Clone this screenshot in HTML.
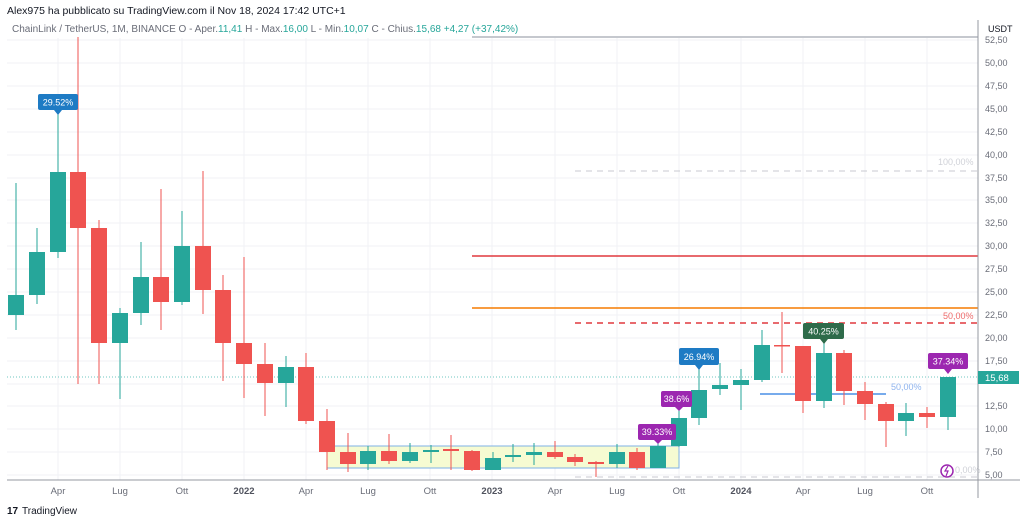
<!DOCTYPE html>
<html><head><meta charset="utf-8"><style>
body{margin:0;background:#fff;width:1024px;height:522px;overflow:hidden}
svg{display:block;font-family:"Liberation Sans",sans-serif}
</style></head><body>
<svg width="1024" height="522" viewBox="0 0 1024 522">
<rect width="1024" height="522" fill="#fff"/>
<g stroke="#f0f2f5" stroke-width="1">
<line x1="58" y1="38" x2="58" y2="480"/><line x1="120" y1="38" x2="120" y2="480"/><line x1="182" y1="38" x2="182" y2="480"/><line x1="244" y1="38" x2="244" y2="480"/><line x1="306" y1="38" x2="306" y2="480"/><line x1="368" y1="38" x2="368" y2="480"/><line x1="430" y1="38" x2="430" y2="480"/><line x1="492" y1="38" x2="492" y2="480"/><line x1="555" y1="38" x2="555" y2="480"/><line x1="617" y1="38" x2="617" y2="480"/><line x1="679" y1="38" x2="679" y2="480"/><line x1="741" y1="38" x2="741" y2="480"/><line x1="803" y1="38" x2="803" y2="480"/><line x1="865" y1="38" x2="865" y2="480"/><line x1="927" y1="38" x2="927" y2="480"/>
<line x1="7" y1="40" x2="978" y2="40"/><line x1="7" y1="63" x2="978" y2="63"/><line x1="7" y1="86" x2="978" y2="86"/><line x1="7" y1="109" x2="978" y2="109"/><line x1="7" y1="132" x2="978" y2="132"/><line x1="7" y1="155" x2="978" y2="155"/><line x1="7" y1="178" x2="978" y2="178"/><line x1="7" y1="200" x2="978" y2="200"/><line x1="7" y1="223" x2="978" y2="223"/><line x1="7" y1="246" x2="978" y2="246"/><line x1="7" y1="269" x2="978" y2="269"/><line x1="7" y1="292" x2="978" y2="292"/><line x1="7" y1="315" x2="978" y2="315"/><line x1="7" y1="338" x2="978" y2="338"/><line x1="7" y1="361" x2="978" y2="361"/><line x1="7" y1="384" x2="978" y2="384"/><line x1="7" y1="406" x2="978" y2="406"/><line x1="7" y1="429" x2="978" y2="429"/><line x1="7" y1="452" x2="978" y2="452"/><line x1="7" y1="475" x2="978" y2="475"/>
</g>
<!-- header -->
<text x="7" y="14" font-size="10.5" fill="#131722">Alex975 ha pubblicato su TradingView.com il Nov 18, 2024 17:42 UTC+1</text>
<text x="12" y="32" font-size="10" fill="#6a6d78">ChainLink / TetherUS, 1M, BINANCE  O - Aper.<tspan fill="#26a69a">11,41</tspan>  H - Max.<tspan fill="#26a69a">16,00</tspan>  L - Min.<tspan fill="#26a69a">10,07</tspan>  C - Chius.<tspan fill="#26a69a">15,68  +4,27 (+37,42%)</tspan></text>
<!-- yellow box -->
<rect x="327" y="446" width="352" height="22" fill="#f6fbd2" stroke="#7fb0e6" stroke-width="1"/>
<!-- horizontal lines -->
<line x1="472" y1="37" x2="978" y2="37" stroke="#b2b5be" stroke-width="1.5"/>
<line x1="472" y1="256" x2="978" y2="256" stroke="#e0393e" stroke-width="1.5"/>
<line x1="472" y1="308" x2="978" y2="308" stroke="#f57c00" stroke-width="1.5"/>
<line x1="575" y1="323" x2="978" y2="323" stroke="#e0393e" stroke-width="1.5" stroke-dasharray="6,5"/>
<line x1="575" y1="171" x2="978" y2="171" stroke="#c8cad0" stroke-width="1" stroke-dasharray="6,5"/>
<line x1="575" y1="477" x2="978" y2="477" stroke="#c8cad0" stroke-width="1" stroke-dasharray="6,5"/>
<line x1="760" y1="394" x2="886" y2="394" stroke="#4a8fe6" stroke-width="1.5"/>
<line x1="7" y1="377" x2="978" y2="377" stroke="#6fc7c0" stroke-width="1" stroke-dasharray="1,2"/>
<text x="943" y="319" font-size="9" fill="#ef6b6b">50,00%</text>
<text x="938" y="165" font-size="9" fill="#d0d2d8">100,00%</text>
<text x="891" y="390" font-size="9" fill="#8fb4ee">50,00%</text>
<text x="955" y="473" font-size="9" fill="#d0d2d8">0,00%</text>
<!-- candles -->
<g stroke-width="1">
<g id="c"></g>
</g>
<g>
<!-- format: wick line + body rect -->
<line x1="16" y1="183" x2="16" y2="330" stroke="#26a69a"/><rect x="8" y="295" width="16" height="20" fill="#26a69a"/>
<line x1="37" y1="228" x2="37" y2="304" stroke="#26a69a"/><rect x="29" y="252" width="16" height="43" fill="#26a69a"/>
<line x1="58" y1="112" x2="58" y2="258" stroke="#26a69a"/><rect x="50" y="172" width="16" height="80" fill="#26a69a"/>
<line x1="78" y1="37" x2="78" y2="384" stroke="#ef5350"/><rect x="70" y="172" width="16" height="56" fill="#ef5350"/>
<line x1="99" y1="220" x2="99" y2="384" stroke="#ef5350"/><rect x="91" y="228" width="16" height="115" fill="#ef5350"/>
<line x1="120" y1="308" x2="120" y2="399" stroke="#26a69a"/><rect x="112" y="313" width="16" height="30" fill="#26a69a"/>
<line x1="141" y1="242" x2="141" y2="325" stroke="#26a69a"/><rect x="133" y="277" width="16" height="36" fill="#26a69a"/>
<line x1="161" y1="189" x2="161" y2="330" stroke="#ef5350"/><rect x="153" y="277" width="16" height="25" fill="#ef5350"/>
<line x1="182" y1="211" x2="182" y2="305" stroke="#26a69a"/><rect x="174" y="246" width="16" height="56" fill="#26a69a"/>
<line x1="203" y1="171" x2="203" y2="314" stroke="#ef5350"/><rect x="195" y="246" width="16" height="44" fill="#ef5350"/>
<line x1="223" y1="275" x2="223" y2="381" stroke="#ef5350"/><rect x="215" y="290" width="16" height="53" fill="#ef5350"/>
<line x1="244" y1="257" x2="244" y2="398" stroke="#ef5350"/><rect x="236" y="343" width="16" height="21" fill="#ef5350"/>
<line x1="265" y1="343" x2="265" y2="416" stroke="#ef5350"/><rect x="257" y="364" width="16" height="19" fill="#ef5350"/>
<line x1="286" y1="356" x2="286" y2="407" stroke="#26a69a"/><rect x="278" y="367" width="16" height="16" fill="#26a69a"/>
<line x1="306" y1="353" x2="306" y2="424" stroke="#ef5350"/><rect x="298" y="367" width="16" height="54" fill="#ef5350"/>
<line x1="327" y1="409" x2="327" y2="470" stroke="#ef5350"/><rect x="319" y="421" width="16" height="31" fill="#ef5350"/>
<line x1="348" y1="433" x2="348" y2="472" stroke="#ef5350"/><rect x="340" y="452" width="16" height="12" fill="#ef5350"/>
<line x1="368" y1="446" x2="368" y2="470" stroke="#26a69a"/><rect x="360" y="451" width="16" height="13" fill="#26a69a"/>
<line x1="389" y1="434" x2="389" y2="464" stroke="#ef5350"/><rect x="381" y="451" width="16" height="10" fill="#ef5350"/>
<line x1="410" y1="443" x2="410" y2="463" stroke="#26a69a"/><rect x="402" y="452" width="16" height="9" fill="#26a69a"/>
<line x1="431" y1="445" x2="431" y2="463" stroke="#26a69a"/><rect x="423" y="450" width="16" height="2" fill="#26a69a"/>
<line x1="451" y1="435" x2="451" y2="470" stroke="#ef5350"/><rect x="443" y="449" width="16" height="2" fill="#ef5350"/>
<line x1="472" y1="450" x2="472" y2="471" stroke="#ef5350"/><rect x="464" y="451" width="16" height="19" fill="#ef5350"/>
<line x1="493" y1="452" x2="493" y2="470" stroke="#26a69a"/><rect x="485" y="458" width="16" height="12" fill="#26a69a"/>
<line x1="513" y1="444" x2="513" y2="462" stroke="#26a69a"/><rect x="505" y="455" width="16" height="2" fill="#26a69a"/>
<line x1="534" y1="443" x2="534" y2="465" stroke="#26a69a"/><rect x="526" y="452" width="16" height="3" fill="#26a69a"/>
<line x1="555" y1="441" x2="555" y2="459" stroke="#ef5350"/><rect x="547" y="452" width="16" height="5" fill="#ef5350"/>
<line x1="575" y1="454" x2="575" y2="466" stroke="#ef5350"/><rect x="567" y="457" width="16" height="5" fill="#ef5350"/>
<line x1="596" y1="461" x2="596" y2="477" stroke="#ef5350"/><rect x="588" y="462" width="16" height="2" fill="#ef5350"/>
<line x1="617" y1="444" x2="617" y2="468" stroke="#26a69a"/><rect x="609" y="452" width="16" height="12" fill="#26a69a"/>
<line x1="637" y1="448" x2="637" y2="470" stroke="#ef5350"/><rect x="629" y="452" width="16" height="16" fill="#ef5350"/>
<line x1="658" y1="440" x2="658" y2="468" stroke="#26a69a"/><rect x="650" y="446" width="16" height="22" fill="#26a69a"/>
<line x1="679" y1="406" x2="679" y2="447" stroke="#26a69a"/><rect x="671" y="418" width="16" height="28" fill="#26a69a"/>
<line x1="699" y1="368" x2="699" y2="425" stroke="#26a69a"/><rect x="691" y="390" width="16" height="28" fill="#26a69a"/>
<line x1="720" y1="363" x2="720" y2="395" stroke="#26a69a"/><rect x="712" y="385" width="16" height="4" fill="#26a69a"/>
<line x1="741" y1="369" x2="741" y2="410" stroke="#26a69a"/><rect x="733" y="380" width="16" height="5" fill="#26a69a"/>
<line x1="762" y1="330" x2="762" y2="382" stroke="#26a69a"/><rect x="754" y="345" width="16" height="35" fill="#26a69a"/>
<line x1="782" y1="312" x2="782" y2="373" stroke="#ef5350"/><rect x="774" y="345" width="16" height="1.5" fill="#ef5350"/>
<line x1="803" y1="346" x2="803" y2="413" stroke="#ef5350"/><rect x="795" y="346" width="16" height="55" fill="#ef5350"/>
<line x1="824" y1="340" x2="824" y2="408" stroke="#26a69a"/><rect x="816" y="353" width="16" height="48" fill="#26a69a"/>
<line x1="844" y1="350" x2="844" y2="405" stroke="#ef5350"/><rect x="836" y="353" width="16" height="38" fill="#ef5350"/>
<line x1="865" y1="382" x2="865" y2="420" stroke="#ef5350"/><rect x="857" y="391" width="16" height="13" fill="#ef5350"/>
<line x1="886" y1="402" x2="886" y2="447" stroke="#ef5350"/><rect x="878" y="404" width="16" height="17" fill="#ef5350"/>
<line x1="906" y1="403" x2="906" y2="436" stroke="#26a69a"/><rect x="898" y="413" width="16" height="8" fill="#26a69a"/>
<line x1="927" y1="407" x2="927" y2="428" stroke="#ef5350"/><rect x="919" y="413" width="16" height="4" fill="#ef5350"/>
<line x1="948" y1="377" x2="948" y2="430" stroke="#26a69a"/><rect x="940" y="377" width="16" height="40" fill="#26a69a"/>
</g>
<!-- labels -->
<g font-size="9" fill="#fff" text-anchor="middle">
<rect x="38" y="94" width="40" height="16" rx="2" fill="#1e7bc4"/><path d="M54 110 L58 115 L62 110Z" fill="#1e7bc4"/><text x="58" y="105.5">29.52%</text>
<rect x="679" y="348" width="40" height="17" rx="2" fill="#1e7bc4"/><path d="M695 365 L699 370 L703 365Z" fill="#1e7bc4"/><text x="699" y="360">26.94%</text>
<rect x="661" y="391" width="31" height="16" rx="2" fill="#9c27b0"/><path d="M675 407 L679 411 L683 407Z" fill="#9c27b0"/><text x="676.5" y="402">38.6%</text>
<rect x="638" y="424" width="38" height="16" rx="2" fill="#9c27b0"/><path d="M654 440 L658 444 L662 440Z" fill="#9c27b0"/><text x="657" y="435">39.33%</text>
<rect x="803" y="323" width="41" height="16" rx="2" fill="#2e6b4a"/><path d="M820 339 L824 344 L828 339Z" fill="#2e6b4a"/><text x="823.5" y="334.5">40.25%</text>
<rect x="928" y="353" width="40" height="16" rx="2" fill="#9c27b0"/><path d="M944 369 L948 374 L952 369Z" fill="#9c27b0"/><text x="948" y="364.5">37.34%</text>
</g>
<circle cx="947" cy="471" r="6" fill="#fff" stroke="#9c27b0" stroke-width="1.5"/><path d="M948 466 L945 471 L948 471 L946 476" stroke="#9c27b0" fill="none" stroke-width="1.2"/>
<!-- axes -->
<line x1="7" y1="480" x2="1020" y2="480" stroke="#9598a1" stroke-width="1"/>
<line x1="978" y1="20" x2="978" y2="498" stroke="#9598a1" stroke-width="1"/>
<g font-size="9.5" fill="#6a6d78" text-anchor="middle">
<text x="58" y="494">Apr</text><text x="120" y="494">Lug</text><text x="182" y="494">Ott</text><text x="244" y="494" font-weight="bold" fill="#50535e">2022</text><text x="306" y="494">Apr</text><text x="368" y="494">Lug</text><text x="430" y="494">Ott</text><text x="492" y="494" font-weight="bold" fill="#50535e">2023</text><text x="555" y="494">Apr</text><text x="617" y="494">Lug</text><text x="679" y="494">Ott</text><text x="741" y="494" font-weight="bold" fill="#50535e">2024</text><text x="803" y="494">Apr</text><text x="865" y="494">Lug</text><text x="927" y="494">Ott</text>
</g>
<text x="988" y="32" font-size="9" fill="#131722">USDT</text>
<g font-size="9" fill="#6a6d78">
<text x="985" y="43">52,50</text><text x="985" y="66">50,00</text><text x="985" y="89">47,50</text><text x="985" y="112">45,00</text><text x="985" y="135">42,50</text><text x="985" y="158">40,00</text><text x="985" y="181">37,50</text><text x="985" y="203">35,00</text><text x="985" y="226">32,50</text><text x="985" y="249">30,00</text><text x="985" y="272">27,50</text><text x="985" y="295">25,00</text><text x="985" y="318">22,50</text><text x="985" y="341">20,00</text><text x="985" y="364">17,50</text><text x="985" y="409">12,50</text><text x="985" y="432">10,00</text><text x="985" y="455">7,50</text><text x="985" y="478">5,00</text>
</g>
<rect x="978" y="371" width="41" height="13" fill="#26a69a"/><text x="985" y="381" font-size="9.5" fill="#fff">15,68</text>
<!-- logo -->
<text x="7" y="514" font-size="10" font-weight="bold" fill="#131722">17</text>
<text x="22" y="514" font-size="10" fill="#131722">TradingView</text>
</svg>
</body></html>
